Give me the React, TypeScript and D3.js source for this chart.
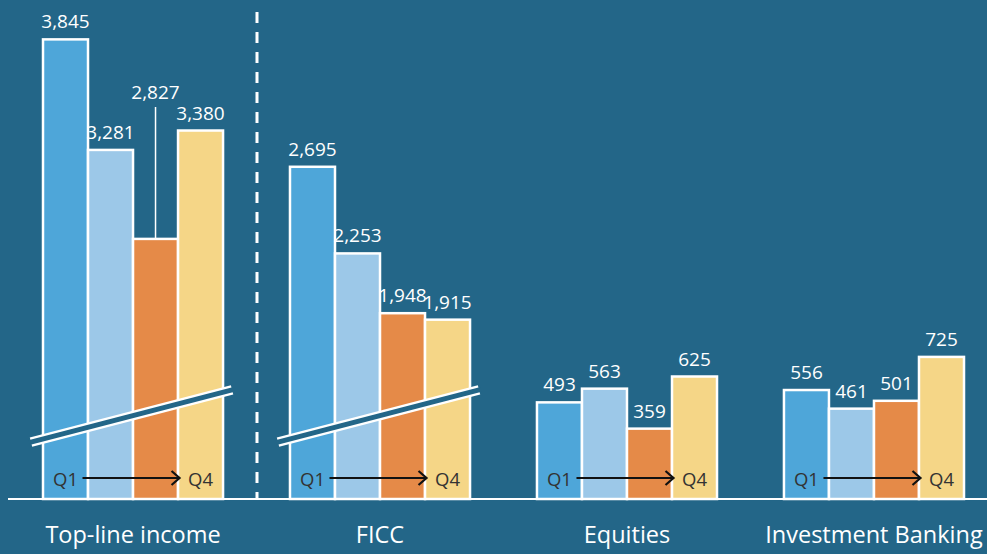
import { useEffect, useRef } from "react";
import * as d3 from "d3";

// chart data
const categories = ["Top-line income", "FICC", "Equities", "Investment Banking"];
const quarters = ["Q1", "Q2", "Q3", "Q4"];
const q1Values = [3845, 2695, 493, 556];
const q2Values = [3281, 2253, 563, 461];
const q3Values = [2827, 1948, 359, 501];
const q4Values = [3380, 1915, 625, 725];
// amount cut out of the broken-axis groups
const breakOffsets = [1500, 1000, 0, 0];
// labels that sit on a leader line instead of directly on the bar
const leaderLabels = [{ cat: 0, q: 2, value: 3500 }];

const W = 987;
const H = 554;
const BG = "#236688";
const colors = ["#4ea6d9", "#9cc8e8", "#e58a48", "#f5d687"];
const FONT = "'Open Sans', 'Noto Sans', sans-serif";

export default function App() {
  const svgRef = useRef<SVGSVGElement>(null);

  useEffect(() => {
    document.body.style.margin = "0";
    const svg = d3.select(svgRef.current);
    svg.selectAll("*").remove();

    const baseY = 499;
    const series = [q1Values, q2Values, q3Values, q4Values];

    const x = d3.scaleBand().domain(categories).range([43, 964]).paddingInner(0.271);
    const xq = d3.scaleBand().domain(quarters).range([0, x.bandwidth()]);
    const y = d3.scaleLinear().domain([0, 1000]).range([baseY, baseY - 196]);

    svg.append("rect").attr("width", W).attr("height", H).attr("fill", BG);

    const fmt = d3.format(",");

    categories.forEach((cat, ci) => {
      const g = svg.append("g").attr("transform", `translate(${x(cat)},0)`);
      const off = breakOffsets[ci];

      quarters.forEach((q, qi) => {
        const v = series[qi][ci];
        const top = y(v - off);
        g.append("rect")
          .attr("x", xq(q)!)
          .attr("y", top)
          .attr("width", xq.bandwidth())
          .attr("height", baseY - top)
          .attr("fill", colors[qi])
          .attr("stroke", "#fff")
          .attr("stroke-width", 2.5);

        const cx = xq(q)! + xq.bandwidth() / 2;
        const leader = leaderLabels.find(l => l.cat === ci && l.q === qi);
        let ly = top - 11;
        if (leader) {
          const yTop = y(leader.value - off);
          g.append("line")
            .attr("x1", cx).attr("x2", cx)
            .attr("y1", top).attr("y2", yTop)
            .attr("stroke", "#fff").attr("stroke-width", 1.5);
          ly = yTop - 8;
        }
        g.append("text")
          .attr("x", cx)
          .attr("y", ly)
          .attr("text-anchor", "middle")
          .attr("fill", "#fff")
          .attr("font-family", FONT)
          .attr("font-size", 19)
          .text(fmt(v));
      });

      // axis break marker
      if (off > 0) {
        const bx0 = -12;
        const bx1 = x.bandwidth() + 9;
        const by0 = y(290);
        const by1 = y(557);
        g.append("line")
          .attr("x1", bx0).attr("y1", by0).attr("x2", bx1).attr("y2", by1)
          .attr("stroke", "#fff").attr("stroke-width", 9.5);
        g.append("line")
          .attr("x1", bx0 - 2).attr("y1", by0 + 0.5).attr("x2", bx1 + 2).attr("y2", by1 - 0.5)
          .attr("stroke", BG).attr("stroke-width", 5);
      }

      // Q1 -> Q4 annotation
      const c0 = xq("Q1")! + xq.bandwidth() / 2;
      const c3 = xq("Q4")! + xq.bandwidth() / 2;
      const ay = baseY - 21;
      g.append("text")
        .attr("x", c0).attr("y", baseY - 13)
        .attr("text-anchor", "middle")
        .attr("fill", "#333")
        .attr("font-family", FONT)
        .attr("font-size", 18.5)
        .text("Q1");
      g.append("text")
        .attr("x", c3).attr("y", baseY - 13)
        .attr("text-anchor", "middle")
        .attr("fill", "#333")
        .attr("font-family", FONT)
        .attr("font-size", 18.5)
        .text("Q4");
      g.append("line")
        .attr("x1", c0 + 17).attr("x2", c3 - 21)
        .attr("y1", ay).attr("y2", ay)
        .attr("stroke", "#111").attr("stroke-width", 2);
      g.append("path")
        .attr("d", `M${c3 - 29},${ay - 7}L${c3 - 21},${ay}L${c3 - 29},${ay + 7}`)
        .attr("fill", "none")
        .attr("stroke", "#111")
        .attr("stroke-width", 2.2);

      // category label
      svg.append("text")
        .attr("x", x(cat)! + x.bandwidth() / 2)
        .attr("y", 543)
        .attr("text-anchor", "middle")
        .attr("fill", "#fff")
        .attr("font-family", FONT)
        .attr("font-size", 23.5)
        .text(cat);
    });

    // baseline
    svg.append("line")
      .attr("x1", 8).attr("x2", W)
      .attr("y1", baseY).attr("y2", baseY)
      .attr("stroke", "#fff").attr("stroke-width", 2);

    // divider between broken and unbroken groups
    svg.append("line")
      .attr("x1", 257).attr("x2", 257)
      .attr("y1", 12).attr("y2", baseY)
      .attr("stroke", "#fff")
      .attr("stroke-width", 3)
      .attr("stroke-dasharray", "11 9");
  }, []);

  return <svg ref={svgRef} width={W} height={H} style={{ display: "block" }} />;
}
